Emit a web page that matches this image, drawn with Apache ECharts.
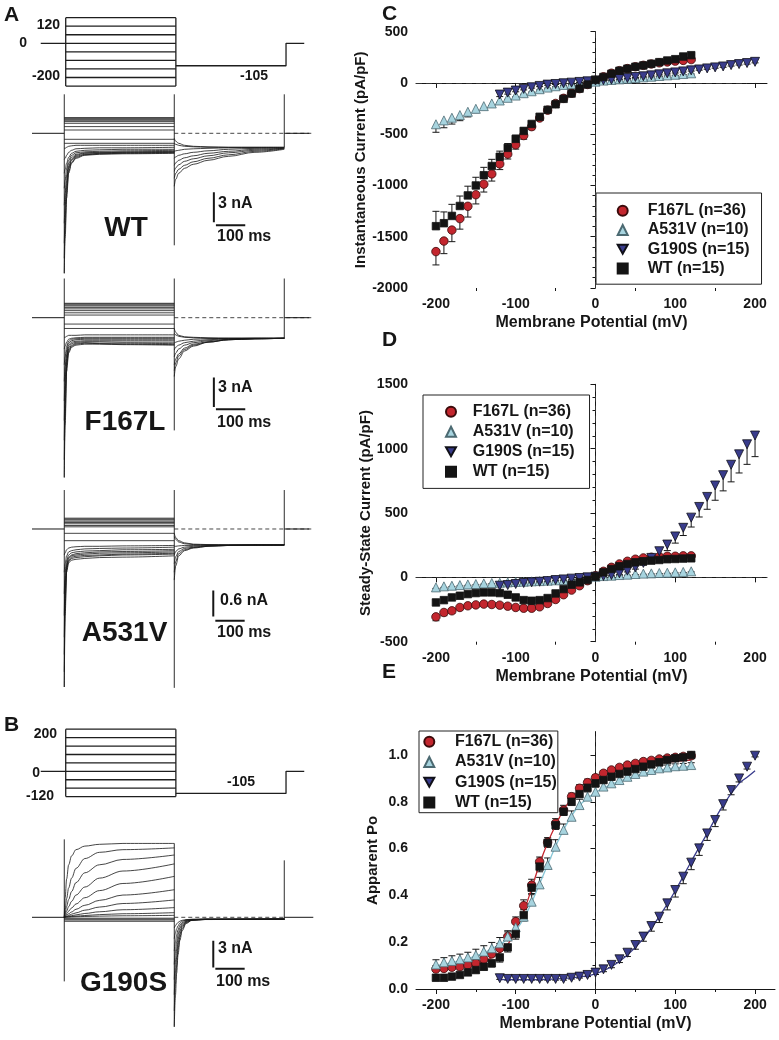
<!DOCTYPE html>
<html><head><meta charset="utf-8">
<script src="https://cdn.jsdelivr.net/npm/echarts@6/dist/echarts.min.js"></script>
<style>html,body{margin:0;padding:0;background:#fff}#c{width:779px;height:1040px}</style>
</head><body><div id="c"></div><script>
// ================= DATA =================
const V_MAIN = [-200,-190,-180,-170,-160,-150,-140,-130,-120,-110,-100,-90,-80,-70,-60,-50,-40,-30,-20,-10,0,10,20,30,40,50,60,70,80,90,100,110,120];
const V_G190S = [-120,-110,-100,-90,-80,-70,-60,-50,-40,-30,-20,-10,0,10,20,30,40,50,60,70,80,90,100,110,120,130,140,150,160,170,180,190,200];
const X_TICKS = [-200,-100,0,100,200];
const X_MINOR = [-150,-50,50,150];
const E_TICKS = [0,0.2,0.4,0.6,0.8,1.0];
const E_MINOR = [0.1,0.3,0.5,0.7,0.9];

// Panel C: instantaneous current (pA/pF)
const C_F167L = [-1645,-1542,-1435,-1323,-1203,-1090,-987,-887,-790,-694,-603,-513,-426,-342,-265,-200,-150,-100,-55,-15,25,60,95,120,140,158,172,185,196,205,213,220,228];
const C_F167L_ERR = [130,123,113,103,105,90,77,70,55,48,42,36,30,25,20,16,12,10,8,6,5,5,5,5,5,6,6,6,7,7,7,8,8];
const C_A531V = [-403,-365,-339,-313,-281,-252,-226,-200,-171,-145,-123,-100,-81,-61,-45,-32,-19,-10,0,6,13,23,29,35,42,48,55,61,68,74,80,87,94];
const C_A531V_ERR = [78,72,62,55,50,38,28,22,18,15,12,10,8,7,6,5,5,4,4,4,4,4,4,4,5,5,5,5,6,6,6,6,7];
const C_G190S = [-113,-94,-74,-58,-42,-29,-16,-10,-3,3,10,16,23,26,32,42,48,58,65,74,84,94,103,113,123,132,142,152,161,174,184,194,206];
const C_G190S_ERR = [20,15,12,10,8,7,6,5,5,5,5,5,5,5,5,5,5,5,5,6,6,6,6,7,7,7,8,8,8,9,9,10,10];
const C_WT = [-1397,-1368,-1297,-1200,-1097,-1000,-900,-810,-720,-633,-545,-468,-400,-330,-262,-208,-155,-103,-55,-15,30,58,90,119,139,158,171,187,203,219,232,258,271];
const C_WT_ERR = [145,110,113,97,90,80,77,65,55,42,35,30,25,20,16,13,10,8,6,5,5,5,5,5,5,6,6,6,7,7,7,8,8];

// Panel D: steady-state current (pA/pF)
const D_F167L = [-307,-273,-260,-234,-221,-214,-208,-211,-216,-224,-234,-240,-240,-229,-203,-172,-135,-99,-65,-26,13,47,78,104,125,141,151,156,161,164,164,167,167];
const D_F167L_ERR = [30,25,20,18,16,15,14,14,14,14,14,14,14,13,12,10,9,8,7,6,5,5,5,6,6,7,8,8,9,9,10,10,10];
const D_A531V = [-78,-70,-65,-60,-55,-52,-47,-44,-42,-39,-36,-34,-31,-29,-26,-23,-21,-16,-10,-3,5,10,13,18,21,26,29,31,34,36,39,42,47];
const D_A531V_ERR = [8,8,7,7,7,6,6,6,6,6,6,5,5,5,5,5,5,5,5,5,5,5,5,5,5,5,5,5,5,5,5,5,5];
const D_G190S = [-65,-60,-52,-44,-39,-34,-29,-21,-16,-10,-5,0,5,10,18,31,52,78,112,151,203,255,318,385,464,547,625,714,794,875,956,1034,1102];
const D_G190S_ERR = [5,5,5,5,5,5,5,5,5,5,5,5,5,5,6,8,10,14,18,25,34,47,52,60,73,78,96,115,122,133,145,156,164];
const D_WT = [-195,-177,-156,-143,-130,-122,-117,-117,-122,-135,-156,-177,-182,-177,-161,-125,-91,-57,-39,-21,5,39,65,86,104,117,125,130,135,141,143,146,148];
const D_WT_ERR = [20,18,16,15,14,13,12,12,12,12,12,12,12,12,11,10,9,8,7,6,5,5,5,6,6,7,7,8,8,9,9,10,10];

// Panel E: apparent Po
const E_F167L = [0.085,0.088,0.093,0.095,0.103,0.11,0.127,0.15,0.174,0.224,0.288,0.356,0.444,0.544,0.627,0.708,0.765,0.822,0.858,0.882,0.903,0.922,0.936,0.947,0.957,0.964,0.972,0.977,0.983,0.987,0.99,0.994,0.997];
const E_F167L_ERR = [0.015,0.015,0.015,0.015,0.015,0.015,0.015,0.015,0.02,0.02,0.02,0.025,0.025,0.02,0.02,0.02,0.02,0.015,0.015,0.015,0.012,0.01,0.01,0.01,0.01,0.01,0.01,0.01,0.01,0.01,0.01,0.01,0.01];
const E_A531V = [0.105,0.114,0.12,0.127,0.135,0.145,0.16,0.174,0.195,0.224,0.264,0.309,0.373,0.447,0.53,0.608,0.68,0.736,0.786,0.822,0.843,0.865,0.879,0.893,0.907,0.919,0.929,0.936,0.943,0.947,0.952,0.954,0.957];
const E_A531V_ERR = [0.02,0.02,0.022,0.022,0.022,0.025,0.025,0.025,0.025,0.025,0.025,0.03,0.03,0.03,0.03,0.03,0.025,0.025,0.025,0.02,0.02,0.015,0.015,0.015,0.012,0.012,0.01,0.01,0.01,0.01,0.01,0.01,0.01];
const E_G190S = [0.046,0.043,0.043,0.043,0.043,0.043,0.043,0.043,0.043,0.048,0.053,0.06,0.07,0.084,0.103,0.127,0.155,0.188,0.224,0.269,0.309,0.366,0.423,0.48,0.54,0.601,0.665,0.722,0.79,0.85,0.9,0.95,0.997];
const E_G190S_ERR = [0.005,0.005,0.005,0.005,0.005,0.005,0.005,0.005,0.005,0.005,0.006,0.007,0.008,0.01,0.012,0.014,0.016,0.018,0.02,0.022,0.025,0.028,0.03,0.03,0.03,0.03,0.03,0.028,0.025,0.02,0.015,0.01,0.005];
const E_WT = [0.048,0.048,0.053,0.06,0.071,0.081,0.095,0.11,0.135,0.178,0.235,0.316,0.433,0.523,0.625,0.7,0.758,0.8,0.833,0.86,0.879,0.893,0.907,0.919,0.929,0.94,0.95,0.96,0.969,0.979,0.986,0.99,1.0];
const E_WT_ERR = [0.01,0.01,0.01,0.01,0.012,0.012,0.014,0.016,0.02,0.02,0.022,0.025,0.025,0.022,0.02,0.018,0.016,0.014,0.012,0.01,0.01,0.01,0.01,0.01,0.01,0.01,0.01,0.01,0.01,0.01,0.01,0.01,0.01];

// Boltzmann fit curves
const FIT_X_MAIN = [-200,-180,-160,-140,-120,-110,-100,-90,-80,-70,-60,-50,-40,-30,-20,-10,0,20,40,60,80,100,120];
const FIT_F167L = [0.088,0.093,0.1,0.118,0.155,0.19,0.25,0.33,0.43,0.535,0.625,0.7,0.765,0.815,0.85,0.875,0.895,0.925,0.945,0.958,0.967,0.973,0.978];
const FIT_A531V = [0.1,0.113,0.13,0.155,0.19,0.215,0.25,0.3,0.37,0.45,0.53,0.61,0.68,0.74,0.785,0.815,0.84,0.875,0.9,0.92,0.935,0.945,0.952];
const FIT_X_G190S = [-120,-80,-40,-20,0,20,40,60,80,100,120,140,160,180,190,200];
const FIT_G190S = [0.04,0.04,0.045,0.052,0.065,0.095,0.145,0.215,0.31,0.42,0.545,0.665,0.786,0.879,0.905,0.933];

// Voltage protocols (mV, ms)
const PROTO_A_LEVELS = [120,80,40,0,-40,-80,-120,-160,-200];
const PROTO_B_LEVELS = [200,160,120,80,40,0,-40,-80,-120];
const HOLD_MV = 0, TAIL_MV = -105;
const PULSE_MS = 375, TAIL_MS = 375;

// Current traces (nA) sampled at these times (ms)
const PULSE_T = [0,3,8,15,25,40,70,120,200,375];
const TAIL_T = [375,380,390,410,440,490,560,650,750];
const G_TAIL_T = [375,379,383,388,394,402,415,435,480,750];

const WT_FLAT = [1.57,1.5,1.4,1.3,1.17,1.0,0.67,0.33,-0.6,-1.0];
const WT_INWARD = [
 [-14,-10.5,-6.5,-4.0,-3.0,-2.5,-2.2,-2.1,-2.05,-2.0],
 [-12.5,-9.5,-6.0,-3.8,-2.9,-2.4,-2.15,-2.05,-2.0,-1.95],
 [-11,-8.5,-5.3,-3.5,-2.7,-2.3,-2.1,-2.0,-1.95,-1.9],
 [-9,-7.2,-4.8,-3.3,-2.6,-2.2,-2.0,-1.95,-1.9,-1.85],
 [-7.2,-6.0,-4.2,-3.0,-2.4,-2.1,-1.95,-1.9,-1.85,-1.8],
 [-5.5,-4.7,-3.5,-2.7,-2.2,-1.95,-1.85,-1.8,-1.75,-1.7],
 [-4.0,-3.6,-3.0,-2.4,-2.0,-1.8,-1.7,-1.65,-1.6,-1.6],
 [-2.6,-2.5,-2.2,-1.9,-1.7,-1.55,-1.5,-1.45,-1.45,-1.4],
 [-1.5,-1.5,-1.4,-1.3,-1.25,-1.2,-1.2,-1.2,-1.2,-1.2]
];
const WT_TAIL = [
 [-0.5,-0.8,-1.0,-1.2,-1.3,-1.35,-1.4,-1.4,-1.4],
 [-1.0,-1.1,-1.2,-1.3,-1.35,-1.4,-1.4,-1.4,-1.4],
 [-1.8,-1.75,-1.7,-1.6,-1.55,-1.5,-1.45,-1.45,-1.45],
 [-2.5,-2.35,-2.2,-2.05,-1.9,-1.75,-1.6,-1.5,-1.45],
 [-3.2,-2.95,-2.7,-2.45,-2.25,-2.0,-1.8,-1.6,-1.5],
 [-3.8,-3.45,-3.15,-2.8,-2.55,-2.25,-1.95,-1.7,-1.5],
 [-4.5,-4.0,-3.6,-3.2,-2.85,-2.5,-2.15,-1.8,-1.55],
 [-5.3,-4.6,-4.0,-3.5,-3.1,-2.7,-2.3,-1.9,-1.6]
];
const WT_SPIKES = [[3.9,-14],[3.9,-11.2],[3.9,-1.4]];

const F167L_FLAT = [1.47,1.4,1.3,1.2,1.05,0.9,0.72,0.5,0.27,-0.65,-1.1];
const F167L_INWARD = [
 [-16.3,-11,-5.5,-3.6,-3.0,-2.8,-2.7,-2.7,-2.75,-2.8],
 [-14.5,-10,-5.0,-3.4,-2.9,-2.7,-2.6,-2.65,-2.7,-2.75],
 [-12.5,-8.8,-4.6,-3.2,-2.8,-2.6,-2.55,-2.6,-2.6,-2.65],
 [-10.5,-7.5,-4.2,-3.0,-2.65,-2.5,-2.45,-2.45,-2.5,-2.5],
 [-8.5,-6.2,-3.8,-2.8,-2.5,-2.4,-2.35,-2.35,-2.35,-2.35],
 [-6.5,-5.0,-3.3,-2.6,-2.35,-2.25,-2.2,-2.2,-2.2,-2.2],
 [-4.8,-4.0,-2.9,-2.4,-2.2,-2.15,-2.1,-2.1,-2.1,-2.1],
 [-3.2,-2.9,-2.5,-2.2,-2.1,-2.05,-2.0,-2.0,-2.0,-2.0],
 [-2.0,-2.0,-1.9,-1.8,-1.8,-1.8,-1.75,-1.75,-1.75,-1.75]
];
const F167L_TAIL = [
 [-1.1,-1.5,-1.8,-1.95,-2.0,-2.05,-2.1,-2.1,-2.1],
 [-1.6,-1.75,-1.9,-2.0,-2.05,-2.1,-2.1,-2.1,-2.1],
 [-2.6,-2.5,-2.4,-2.3,-2.2,-2.15,-2.1,-2.1,-2.1],
 [-3.3,-3.0,-2.8,-2.55,-2.4,-2.25,-2.15,-2.1,-2.1],
 [-4.0,-3.6,-3.2,-2.8,-2.55,-2.35,-2.2,-2.15,-2.1],
 [-4.8,-4.2,-3.7,-3.1,-2.7,-2.45,-2.25,-2.15,-2.1],
 [-5.4,-4.6,-3.9,-3.25,-2.8,-2.5,-2.25,-2.15,-2.1],
 [-6.0,-5.0,-4.2,-3.4,-2.9,-2.5,-2.25,-2.15,-2.1]
];
const F167L_SPIKES = [[4.0,-16.3],[4.0,-11.5],[4.0,-2.1]];

const A531V_FLAT = [0.25,0.23,0.21,0.18,0.15,0.12,0.08,0.05,-0.1,-0.27];
const A531V_INWARD = [
 [-3.65,-2.0,-1.0,-0.78,-0.72,-0.7,-0.68,-0.66,-0.65,-0.62],
 [-3.3,-1.8,-0.95,-0.75,-0.68,-0.66,-0.64,-0.62,-0.6,-0.58],
 [-2.9,-1.6,-0.9,-0.72,-0.65,-0.63,-0.61,-0.6,-0.58,-0.56],
 [-2.5,-1.4,-0.85,-0.68,-0.62,-0.6,-0.58,-0.56,-0.55,-0.53],
 [-2.0,-1.2,-0.8,-0.65,-0.6,-0.57,-0.55,-0.53,-0.52,-0.5],
 [-1.5,-1.0,-0.72,-0.6,-0.55,-0.53,-0.51,-0.5,-0.48,-0.47],
 [-1.0,-0.8,-0.62,-0.53,-0.5,-0.48,-0.46,-0.45,-0.44,-0.42],
 [-0.6,-0.55,-0.48,-0.44,-0.42,-0.41,-0.4,-0.4,-0.39,-0.38]
];
const A531V_TAIL = [
 [-1.18,-0.85,-0.62,-0.5,-0.44,-0.4,-0.38,-0.37,-0.37],
 [-1.0,-0.75,-0.57,-0.48,-0.43,-0.4,-0.38,-0.37,-0.37],
 [-0.8,-0.64,-0.52,-0.45,-0.42,-0.39,-0.38,-0.37,-0.37],
 [-0.6,-0.52,-0.46,-0.42,-0.4,-0.38,-0.37,-0.37,-0.37],
 [-0.4,-0.4,-0.39,-0.38,-0.38,-0.37,-0.37,-0.37,-0.37],
 [-0.18,-0.24,-0.3,-0.34,-0.36,-0.37,-0.37,-0.37,-0.37],
 [-0.1,-0.2,-0.27,-0.32,-0.35,-0.36,-0.37,-0.37,-0.37]
];
const A531V_SPIKES = [[0.9,-3.65],[0.9,-3.67],[0.9,-0.37]];

const G190S_FLAT = [-0.1,-0.2,-0.3,-0.45];
const G190S_OUTWARD = [
 [0,2.2,4.3,5.9,6.9,7.6,8.0,8.2,8.3,8.3],
 [0,0.9,2.1,3.3,4.4,5.5,6.6,7.3,7.6,7.8],
 [0,0.5,1.2,2.0,2.9,3.9,5.0,5.9,6.5,7.0],
 [0,0.3,0.7,1.2,1.8,2.5,3.4,4.4,5.2,6.0],
 [0,0.15,0.4,0.7,1.05,1.5,2.2,3.0,3.8,4.6],
 [0,0.1,0.25,0.4,0.6,0.9,1.35,1.9,2.5,3.1],
 [0,0.05,0.12,0.22,0.35,0.5,0.8,1.15,1.55,1.95],
 [0,0.03,0.07,0.12,0.18,0.27,0.43,0.62,0.85,1.09],
 [0,0.02,0.04,0.06,0.09,0.13,0.2,0.3,0.4,0.52],
 [0,0.01,0.02,0.03,0.04,0.06,0.09,0.13,0.17,0.22]
];
const G190S_TAIL = [
 [-12.3,-8.8,-6.3,-4.2,-2.6,-1.5,-0.7,-0.35,-0.25,-0.2],
 [-10.5,-7.5,-5.4,-3.6,-2.25,-1.3,-0.62,-0.33,-0.25,-0.2],
 [-8.7,-6.2,-4.5,-3.0,-1.9,-1.1,-0.55,-0.3,-0.24,-0.2],
 [-7.0,-5.0,-3.6,-2.45,-1.55,-0.9,-0.48,-0.3,-0.23,-0.2],
 [-5.3,-3.8,-2.75,-1.9,-1.2,-0.75,-0.42,-0.28,-0.22,-0.2],
 [-3.8,-2.75,-2.0,-1.4,-0.9,-0.6,-0.36,-0.26,-0.22,-0.2],
 [-2.4,-1.75,-1.3,-0.95,-0.65,-0.45,-0.3,-0.24,-0.21,-0.2],
 [-1.2,-0.95,-0.75,-0.58,-0.44,-0.34,-0.26,-0.22,-0.2,-0.2]
];
const G190S_SPIKES = [[8.76,-7.2],[8.3,-12.3],[6.4,-0.3]];

const SCALE_MS = 100;
const SCALE_NA = {WT:3, F167L:3, A531V:0.6, G190S:3};

// ================= STYLE / LAYOUT =================
const FONT = "'Liberation Sans', Arial, Helvetica, sans-serif";
const INK = '#161616';
const GROUPS = [
  {name:'F167L (n=36)', symbol:'circle', size:8.5, color:'#c3262e', border:'#3b0b0b'},
  {name:'A531V (n=10)', symbol:'triangle', size:9, color:'#a7d4df', border:'#4c6a72'},
  {name:'G190S (n=15)', symbol:'path://M0,0L10,0L5,9Z', size:9, color:'#393c8c', border:'#101018'},
  {name:'WT (n=15)', symbol:'rect', size:7.5, color:'#141414', border:'#141414'}
];

const grids = [
  {left:416, top:31.7, width:351, height:256.3},   // C
  {left:416, top:384.3, width:351, height:257.4},  // D
  {left:416, top:731.6, width:359, height:257.4},  // E
  {left:33.4, top:13.4, width:282, height:76.9},   // protocol A (mV)
  {left:32.0, top:88.3, width:281.6, height:195},  // WT
  {left:32.0, top:273.6, width:281.6, height:210.7}, // F167L
  {left:32.0, top:485.7, width:281.6, height:207.8}, // A531V
  {left:33.4, top:725.0, width:282, height:75.8},  // protocol B
  {left:32.0, top:832.75, width:281.6, height:204.7} // G190S
];

const tickLabel = {color:INK, fontSize:14, fontWeight:'bold', fontFamily:FONT};
function mainX(gi, max){
  return {type:'value', gridIndex:gi, min:-225, max:max,
    name:'Membrane Potential (mV)', nameLocation:'middle', nameGap:27,
    nameTextStyle:{color:INK, fontSize:16, fontWeight:'bold', fontFamily:FONT},
    axisLine:{show:true, lineStyle:{color:INK, width:1}},
    axisTick:{show:true, length:5, customValues:X_TICKS, lineStyle:{color:INK}},
    axisLabel:Object.assign({margin:9, customValues:X_TICKS, formatter:v=>String(v)}, tickLabel),
    splitLine:{show:false}};
}
function minorX(gi, max){
  return {type:'value', gridIndex:gi, min:-225, max:max, position:'bottom',
    axisLine:{show:false}, axisLabel:{show:false}, splitLine:{show:false},
    axisTick:{show:true, length:3, customValues:X_MINOR, lineStyle:{color:INK}}};
}
function hidden(gi, min, max){
  return {type:'value', gridIndex:gi, min, max, show:false, splitLine:{show:false}};
}
const xAxis = [
  mainX(0,215), minorX(0,215), mainX(1,215), minorX(1,215), mainX(2,225), minorX(2,225),
  hidden(3,-110,850), hidden(4,-110,850), hidden(5,-110,850), hidden(6,-110,850), hidden(7,-110,850), hidden(8,-110,850)
];
function mainY(gi, min, max, interval, name, gap){
  return {type:'value', gridIndex:gi, min, max, interval,
    name, nameLocation:'middle', nameGap:gap,
    nameTextStyle:{color:INK, fontSize:15, fontWeight:'bold', fontFamily:FONT},
    axisLine:{show:true, lineStyle:{color:INK, width:1}},
    axisTick:{show:true, length:5, lineStyle:{color:INK}},
    minorTick:{show:true, splitNumber:5, length:3, lineStyle:{color:INK}},
    axisLabel:Object.assign({margin:8, formatter:v=>String(v)}, tickLabel),
    splitLine:{show:false}, minorSplitLine:{show:false}};
}
const yE = {type:'value', gridIndex:2, min:0, max:1.1,
  name:'Apparent Po', nameLocation:'middle', nameGap:36,
  nameTextStyle:{color:INK, fontSize:15, fontWeight:'bold', fontFamily:FONT},
  axisLine:{show:true, lineStyle:{color:INK, width:1}},
  axisTick:{show:true, length:5, customValues:E_TICKS, lineStyle:{color:INK}},
  axisLabel:Object.assign({margin:8, customValues:E_TICKS, formatter:v=>v.toFixed(1)}, tickLabel),
  splitLine:{show:false}};
const yEminor = {type:'value', gridIndex:2, min:0, max:1.1, position:'left',
  axisLine:{show:false}, axisLabel:{show:false}, splitLine:{show:false},
  axisTick:{show:true, length:3, customValues:E_MINOR, lineStyle:{color:INK}}};
const yAxis = [
  mainY(0,-2000,500,500,'Instantaneous Current (pA/pF)',38),
  mainY(1,-500,1500,500,'Steady-State Current (pA/pF)',38),
  yE, yEminor,
  hidden(3,-220,140), hidden(4,-15,4.5), hidden(5,-17,4.5), hidden(6,-3.8,1.0), hidden(7,-140,220), hidden(8,-13.5,9.5)
];

const series = [];
const base = {silent:true, animation:false};

// ---------- scatter panels C, D, E ----------
const PANELS = [
  {gi:0, xi:0, yi:0, vals:[C_F167L,C_A531V,C_G190S,C_WT], errs:[C_F167L_ERR,C_A531V_ERR,C_G190S_ERR,C_WT_ERR], dirs:[-1,-1,-1,1]},
  {gi:1, xi:2, yi:1, vals:[D_F167L,D_A531V,D_G190S,D_WT], errs:[D_F167L_ERR,D_A531V_ERR,D_G190S_ERR,D_WT_ERR], dirs:[-1,-1,-1,1]},
  {gi:2, xi:4, yi:2, vals:[E_F167L,E_A531V,E_G190S,E_WT], errs:[E_F167L_ERR,E_A531V_ERR,E_G190S_ERR,E_WT_ERR], dirs:[1,1,-1,-1]}
];
const XS = [V_MAIN, V_MAIN, V_G190S, V_MAIN];

PANELS.forEach((p, pi) => {
  GROUPS.forEach((g, k) => {
    const xs = XS[k], ys = p.vals[k], es = p.errs[k], d = p.dirs[k];
    series.push(Object.assign({type:'custom', name:'err'+pi+'_'+k, xAxisIndex:p.xi, yAxisIndex:p.yi, z:2,
      data: xs.map((x,i)=>[x, ys[i], ys[i] + d*es[i]]),
      encode:{x:0, y:[1,2]},
      renderItem(params, api){
        const a = api.coord([api.value(0), api.value(1)]);
        const b = api.coord([api.value(0), api.value(2)]);
        const w = 3.5;
        return {type:'group', children:[
          {type:'line', shape:{x1:a[0], y1:a[1], x2:b[0], y2:b[1]}, style:{stroke:INK, lineWidth:1}},
          {type:'line', shape:{x1:b[0]-w, y1:b[1], x2:b[0]+w, y2:b[1]}, style:{stroke:INK, lineWidth:1}}
        ]};
      }}, base));
  });
  GROUPS.forEach((g, k) => {
    series.push(Object.assign({type:'scatter', name:g.name, xAxisIndex:p.xi, yAxisIndex:p.yi, z:5+k,
      symbol:g.symbol, symbolSize:g.size,
      itemStyle:{color:g.color, borderColor:g.border, borderWidth:0.8, opacity:1},
      data: XS[k].map((x,i)=>[x, p.vals[k][i]])}, base));
  });
});

// reference lines
const refStyle = {color:'#333', type:[6,4], width:1};
series.push(Object.assign({type:'line', name:'refC', xAxisIndex:0, yAxisIndex:0, data:[], z:1,
  markLine:{symbol:'none', silent:true, label:{show:false}, lineStyle:refStyle, animation:false,
    data:[{xAxis:0}, [{coord:[-225,0]},{coord:[190,0]}]]}}, base));
series.push(Object.assign({type:'line', name:'refD', xAxisIndex:2, yAxisIndex:1, data:[], z:1,
  markLine:{symbol:'none', silent:true, label:{show:false}, lineStyle:refStyle, animation:false,
    data:[{xAxis:0}, {yAxis:0}]}}, base));
series.push(Object.assign({type:'line', name:'refE', xAxisIndex:4, yAxisIndex:2, data:[], z:1,
  markLine:{symbol:'none', silent:true, label:{show:false}, lineStyle:refStyle, animation:false,
    data:[[{coord:[0,1.08]},{coord:[0,0]}]]}}, base));

// fit curves on E
[[FIT_X_MAIN, FIT_F167L, '#c3262e'], [FIT_X_MAIN, FIT_A531V, '#86c6d6'], [FIT_X_G190S, FIT_G190S, '#393c8c']].forEach(([xs, ys, col], i) => {
  series.push(Object.assign({type:'line', name:'fit'+i, xAxisIndex:4, yAxisIndex:2, z:4, symbol:'none', smooth:0.4,
    lineStyle:{color:col, width:1.3}, data: xs.map((x,j)=>[x, ys[j]])}, base));
});

// ---------- protocols ----------
function lineS(xi, yi, pts, extra){
  return Object.assign({type:'line', xAxisIndex:xi, yAxisIndex:yi, data:pts, symbol:'none', z:3,
    lineStyle:{color:INK, width:0.8}}, base, extra||{});
}
function protocol(xi, yi, levels){
  const w = {lineStyle:{color:'#1e1e1e', width:1.3}};
  const hi = Math.max(...levels), lo = Math.min(...levels);
  series.push(lineS(xi, yi, [[-85,HOLD_MV],[0,HOLD_MV]], w));
  levels.forEach(v => series.push(lineS(xi, yi, [[0,v],[PULSE_MS,v]], w)));
  series.push(lineS(xi, yi, [[0,hi],[0,lo]], w));
  series.push(lineS(xi, yi, [[PULSE_MS,hi],[PULSE_MS,lo]], w));
  series.push(lineS(xi, yi, [[PULSE_MS,TAIL_MV],[PULSE_MS+TAIL_MS,TAIL_MV],[PULSE_MS+TAIL_MS,HOLD_MV],[PULSE_MS+TAIL_MS+62,HOLD_MV]], w));
}
protocol(6, 4, PROTO_A_LEVELS);
protocol(10, 8, PROTO_B_LEVELS);

// ---------- current traces ----------
const smooth = {smooth:0.35, smoothMonotone:'x'};
function traces(xi, yi, cfg){
  series.push(lineS(xi, yi, [[-110,0],[0,0]], {lineStyle:{color:INK, width:1}}));
  series.push(lineS(xi, yi, [[PULSE_MS,0],[cfg.dashEnd,0]], {lineStyle:{color:'#333', width:0.9, type:[4,3]}}));
  series.push(lineS(xi, yi, [[PULSE_MS+TAIL_MS,0],[cfg.postEnd,0]], {lineStyle:{color:INK, width:1}}));
  [0, PULSE_MS, PULSE_MS+TAIL_MS].forEach((t, i) => {
    series.push(lineS(xi, yi, [[t, cfg.spikes[i][0]],[t, cfg.spikes[i][1]]], {lineStyle:{color:INK, width:0.9}}));
  });
  cfg.flat.forEach(v => series.push(lineS(xi, yi, [[0,v],[PULSE_MS,v]])));
  cfg.pulse.forEach(arr => series.push(lineS(xi, yi, PULSE_T.map((t,i)=>[t, arr[i]]), smooth)));
  cfg.tail.forEach(arr => series.push(lineS(xi, yi, cfg.tailT.map((t,i)=>[t, arr[i]]), smooth)));
  const b = cfg.bar;
  series.push(lineS(xi, yi, [[b.t, b.y],[b.t, b.y - cfg.na]], {lineStyle:{color:INK, width:2}}));
  series.push(lineS(xi, yi, [[b.t+7, b.hy],[b.t+7+SCALE_MS, b.hy]], {lineStyle:{color:INK, width:2}}));
}
traces(7, 5, {flat:WT_FLAT, pulse:WT_INWARD, tail:WT_TAIL, tailT:TAIL_T, spikes:WT_SPIKES, na:SCALE_NA.WT, dashEnd:849, postEnd:835, bar:{t:510, y:-5.9, hy:-9.2}});
traces(8, 6, {flat:F167L_FLAT, pulse:F167L_INWARD, tail:F167L_TAIL, tailT:TAIL_T, spikes:F167L_SPIKES, na:SCALE_NA.F167L, dashEnd:849, postEnd:835, bar:{t:510, y:-6.1, hy:-9.35}});
traces(9, 7, {flat:A531V_FLAT, pulse:A531V_INWARD, tail:A531V_TAIL, tailT:TAIL_T, spikes:A531V_SPIKES, na:SCALE_NA.A531V, dashEnd:849, postEnd:835, bar:{t:508, y:-1.42, hy:-2.12}});
traces(11, 9, {flat:G190S_FLAT, pulse:G190S_OUTWARD, tail:G190S_TAIL, tailT:G_TAIL_T, spikes:G190S_SPIKES, na:SCALE_NA.G190S, dashEnd:750, postEnd:849, bar:{t:508, y:-2.63, hy:-5.78}});

// ---------- legends ----------
function legend(left, top, padding, lh, gap, pl){
  return {left, top, orient:'vertical', padding, itemGap:gap, itemWidth:10, itemHeight:10,
    selectedMode:false, borderColor:'#222', borderWidth:1, backgroundColor:'#fff',
    data: GROUPS.map(g=>g.name),
    textStyle:{color:INK, fontSize:16, fontWeight:'bold', fontFamily:FONT, lineHeight:lh, padding:[0,0,0,pl]}};
}
const legends = [
  legend(596, 193, [8, 12, 6, 20.7], 19.3, 0, 15),
  legend(423, 395, [6.7, 15, 6.7, 22], 20, 0, 11.7),
  legend(419, 731, [0.5, 1, 0, 4.3], 20.3, 0, 15.7)
];

// ---------- texts ----------
function txt(text, x, y, size, align){
  return {type:'text', x, y, silent:true, z:100,
    style:{text, fill:INK, font:'bold '+size+'px '+FONT, textAlign:align||'left', textVerticalAlign:'middle'}};
}
const graphic = [
  txt('A', 4, 15, 21), txt('B', 4, 725, 21),
  txt('C', 382, 14, 21), txt('D', 382, 340, 21), txt('E', 382, 672, 21),
  txt('120', 60, 25, 14, 'right'), txt('0', 27, 43.5, 14, 'right'), txt('-200', 60, 76, 14, 'right'), txt('-105', 240, 76, 14),
  txt('200', 57, 734, 14, 'right'), txt('0', 40, 773, 14, 'right'), txt('-120', 54, 796, 14, 'right'), txt('-105', 227, 782, 14),
  txt('WT', 126, 228, 28, 'center'), txt('F167L', 125, 422, 28, 'center'),
  txt('A531V', 124.5, 633, 28, 'center'), txt('G190S', 123.5, 983, 28, 'center'),
  txt(SCALE_NA.WT+' nA', 218, 204, 16), txt(SCALE_MS+' ms', 217, 237, 16),
  txt(SCALE_NA.F167L+' nA', 218, 388, 16), txt(SCALE_MS+' ms', 217, 423, 16),
  txt(SCALE_NA.A531V+' nA', 220, 601, 16), txt(SCALE_MS+' ms', 217, 633, 16),
  txt(SCALE_NA.G190S+' nA', 218, 949, 16), txt(SCALE_MS+' ms', 216, 982, 16)
];

const chart = echarts.init(document.getElementById('c'), null, {renderer:'canvas'});
chart.setOption({
  animation:false, backgroundColor:'#fff',
  textStyle:{fontFamily:FONT},
  grid:grids, xAxis, yAxis, legend:legends, series, graphic
});
</script></body></html>
